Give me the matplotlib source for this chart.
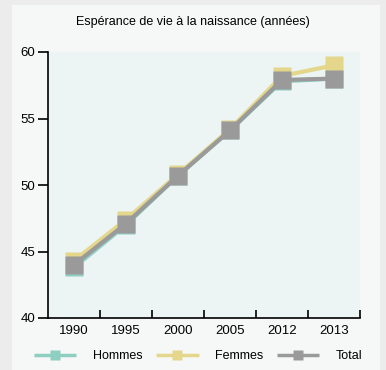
import matplotlib.pyplot as plt
from matplotlib.patches import Rectangle

plt.rcParams['font.family'] = ['Liberation Sans', 'DejaVu Sans']

years = ["1990", "1995", "2000", "2005", "2012", "2013"]
hommes = [43.8, 47.0, 50.7, 54.1, 57.8, 58.0]
femmes = [44.3, 47.4, 50.8, 54.2, 58.2, 59.0]
total = [44.0, 47.1, 50.7, 54.1, 57.9, 58.0]

c_h = "#8fcfc2"
c_f = "#e4d78b"
c_t = "#9a9a9a"

fig = plt.figure(figsize=(3.86, 3.70), dpi=100)
fig.patch.set_facecolor("#ececec")
# inner panel
fig.patches.append(Rectangle((12 / 386, 0), 368 / 386, 365 / 370,
                             transform=fig.transFigure, facecolor="#f6f8f7",
                             edgecolor="none", zorder=-5))

ax = fig.add_axes([48 / 386, 52 / 370, 312 / 386, 266 / 370], zorder=2)
ax.set_facecolor("#ecf5f4")

x = list(range(len(years)))
series = [("Hommes", hommes, c_h), ("Femmes", femmes, c_f), ("Total", total, c_t)]
for name, vals, col in series:
    ax.plot(x, vals, color=col, lw=3, marker="s", ms=12.5, mec="none",
            solid_capstyle="butt", label=name)

ax.set_xlim(-0.5, 5.5)
ax.set_ylim(40, 60)
ax.set_yticks([40, 45, 50, 55, 60])
ax.tick_params(axis="y", direction="out", length=7, width=1.2, labelsize=9.5, pad=2)

ax.set_xticks([i + 0.5 for i in x])
ax.set_xticklabels([])
ax.tick_params(axis="x", which="major", direction="in", length=6, width=1.2)
ax.set_xticks(x, minor=True)
ax.set_xticklabels(years, minor=True)
ax.tick_params(axis="x", which="minor", length=0, labelsize=9.5, pad=5)

for s in ["top", "right"]:
    ax.spines[s].set_visible(False)
for s in ["left", "bottom"]:
    ax.spines[s].set_linewidth(1.2)

fig.text(0.5, 0.94, "Espérance de vie à la naissance (années)", ha="center",
         va="center", fontsize=9)

handles, labels = ax.get_legend_handles_labels()
leg = fig.legend(handles, labels, loc="center", bbox_to_anchor=(0.513, 0.038),
                 ncol=3, frameon=False, fontsize=9, handlelength=3.4,
                 columnspacing=1.1, handletextpad=1.3, markerscale=0.55)
for ln in leg.get_lines():
    ln.set_linewidth(2.5)

fig.savefig("out.png", dpi=100, facecolor=fig.get_facecolor())
